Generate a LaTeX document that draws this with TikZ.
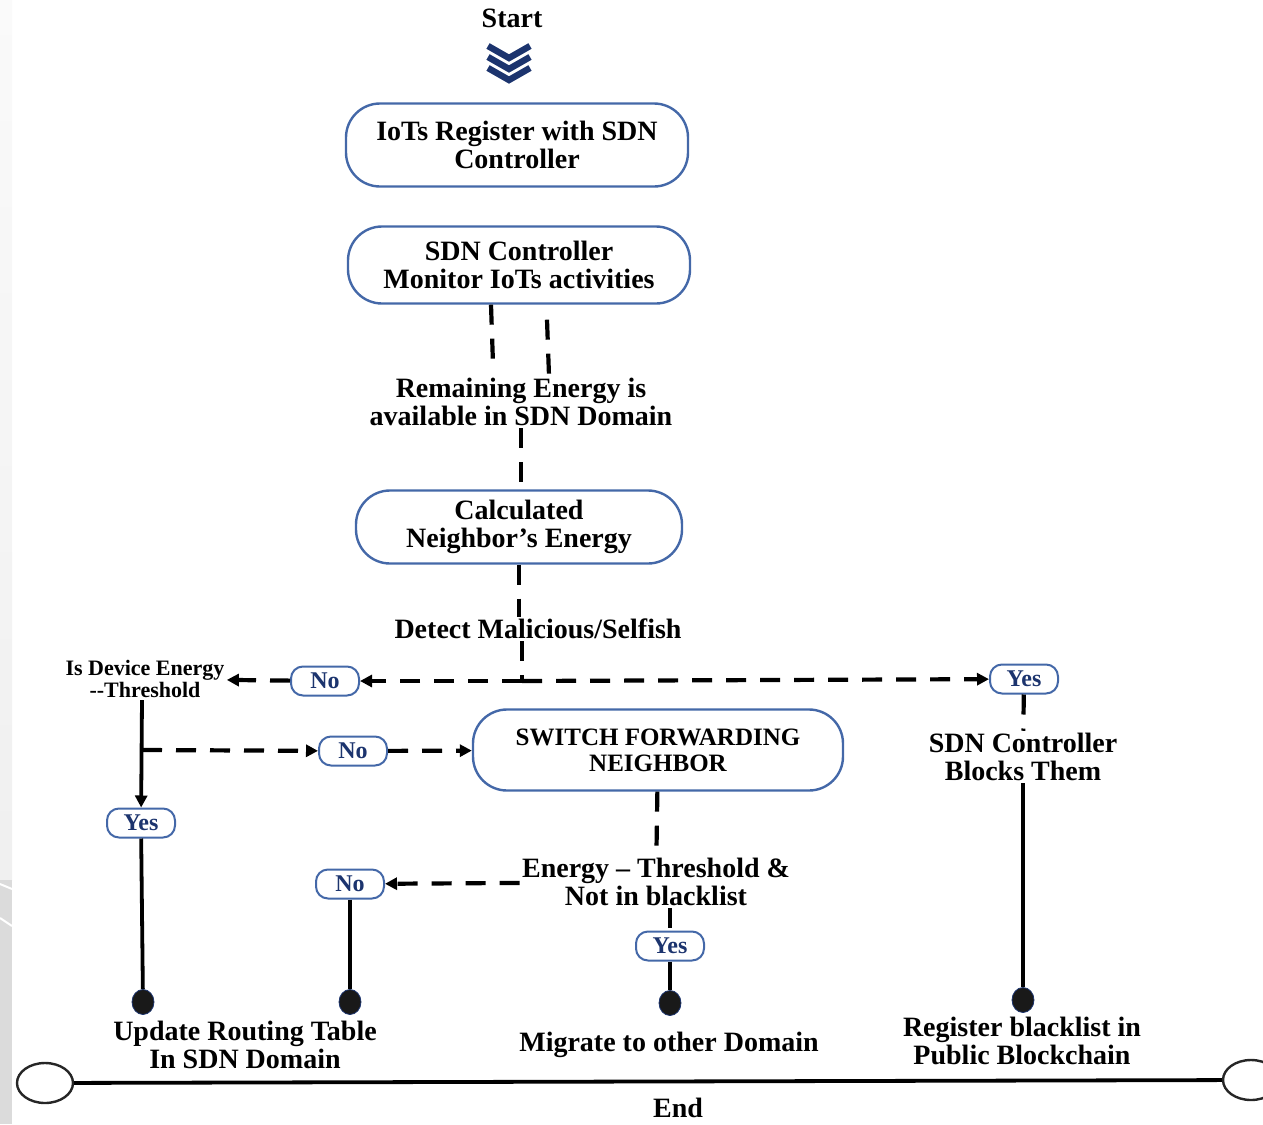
\documentclass[tikz,border=0pt]{standalone}
\usepackage{fontspec}
\setmainfont{Liberation Serif}
\usetikzlibrary{arrows.meta,shapes.geometric}
\definecolor{boxblue}{RGB}{68,104,168}
\definecolor{navy}{RGB}{28,52,110}

\begin{document}
\begin{tikzpicture}[x=0.5pt,y=-0.5pt,
            font=\bfseries\fontsize{14}{14}\selectfont,
            every node/.style={align=center,inner sep=1pt},
            stage/.style={draw=boxblue,line width=1.2pt,rounded corners=17pt,minimum width=171pt,minimum height=40pt},
            answer/.style={draw=boxblue,line width=1pt,rounded corners=6pt,minimum width=34pt,minimum height=14.5pt,
                           inner sep=0pt,text=navy,font=\bfseries\fontsize{12}{12}\selectfont},
            dot/.style={ellipse,draw=navy,fill=black!90,minimum width=11pt,minimum height=12.5pt,inner sep=0pt},
            stopper/.style={ellipse,draw=black!85,line width=1.2pt,minimum width=28pt,minimum height=20pt,inner sep=0pt},
            dashline/.style={dash pattern=on 10pt off 7pt,line width=2.1pt},
            solidline/.style={line width=1.9pt},
            tip/.style={-{Triangle[length=6pt,width=6pt]}},
            ]
            \useasboundingbox (0,0) rectangle (1263,1124);

            % grey strip at the left edge
            \shade[top color=gray!4,bottom color=gray!12] (0,0) rectangle (12,880);
            \fill[gray!28] (0,880) rectangle (12,1124);
            \draw[white,line width=1pt] (0,884) -- (12,889) (0,918) -- (12,926);

            \node (start) at (512,18) {Start};
            \foreach \y in {46,57,68}
                \draw[navy,line width=3.2pt] (488,\y) -- (509,\y+12) -- (530,\y);

            \node[stage,minimum height=41.5pt] (reg) at (517,145) {IoTs Register with SDN\\Controller};
            \node[stage,minimum height=38.5pt] (mon) at (519,265) {SDN Controller\\Monitor IoTs activities};
            \node (rem) at (521,402) {Remaining Energy is\\available in SDN Domain};
            \node[stage,minimum width=163pt,minimum height=36.5pt] (calc) at (519,527) {Calculated\\Neighbor’s Energy};
            \node (det) at (538,629) {Detect Malicious/Selfish};
            \coordinate (fork) at (522,681);

            \node[answer] (no1) at (325,681) {No};
            \node[answer] (yes1) at (1024,679) {Yes};
            \node[font=\bfseries\fontsize{11}{11}\selectfont] (thr) at (145,679) {Is Device Energy\\{-}{-}Threshold};
            \node (blk) at (1023,757) {SDN Controller\\Blocks Them};

            \node[stage,minimum width=185pt,minimum height=40.5pt,font=\bfseries\fontsize{12.5}{13}\selectfont] (sw) at (658,750) {SWITCH FORWARDING\\NEIGHBOR};
            \coordinate (split) at (142,750);
            \node[answer] (no2) at (353,751) {No};
            \node[answer] (yes2) at (141,823) {Yes};

            \node (en) at (656,882) {Energy – Threshold \&\\Not in blacklist};
            \node[answer] (no3) at (350,884) {No};
            \node[answer] (yes3) at (670,946) {Yes};

            \node[dot] (d1) at (143,1002) {};
            \node[dot] (d2) at (350,1002) {};
            \node[dot] (d3) at (670,1003) {};
            \node[dot] (d4) at (1023,1000) {};
            \node (upd) at (245,1045) {Update Routing Table\\In SDN Domain};
            \node (mig) at (669,1045) {Migrate to other Domain};
            \node (pub) at (1022,1041) {Register blacklist in\\Public Blockchain};

            \node[stopper] (endl) at (45,1083) {};
            \node[stopper] (endr) at (1251,1080) {};
            \node (endt) at (678,1108) {End};

            % connectors
            \draw[dashline] ([xshift=-14pt]mon.south) -- ([xshift=-14pt,yshift=6pt]rem.north);
            \draw[dashline] ([xshift=14pt,yshift=-7.5pt]mon.south) -- ([xshift=14pt]rem.north);
            \draw[dashline] (rem.south) -- (rem.south |- calc.north);
            \draw[dashline] (calc.south) -- (calc.south |- det.north);
            \draw[dashline] (det.south -| fork) -- (fork);
            \draw[solidline] ([xshift=-10pt]fork) -- ([xshift=10pt]fork);
            \draw[dashline,tip] (fork) -- (no1);
            \draw[dashline,tip] (fork) -- (yes1);
            \draw[dashline,tip] (no1) -- (thr);
            \draw[dashline] (yes1) -- (blk);
            \draw[solidline] (blk) -- (d4);

            \draw[solidline,tip] (thr.south -| split) -- (yes2);
            \draw[dashline,tip] (split) -- (no2);
            \draw[dashline,tip] (no2) -- (sw);
            \draw[solidline] (yes2) -- (d1);

            \draw[dashline] (sw) -- (en);
            \draw[dashline,tip] (en) -- (no3);
            \draw[dashline] (en.south -| yes3) -- (yes3);
            \draw[solidline] (no3) -- (d2);
            \draw[solidline] (yes3) -- (d3);

            \draw[solidline] (endl) -- (endr);
        \end{tikzpicture}
\end{document}
